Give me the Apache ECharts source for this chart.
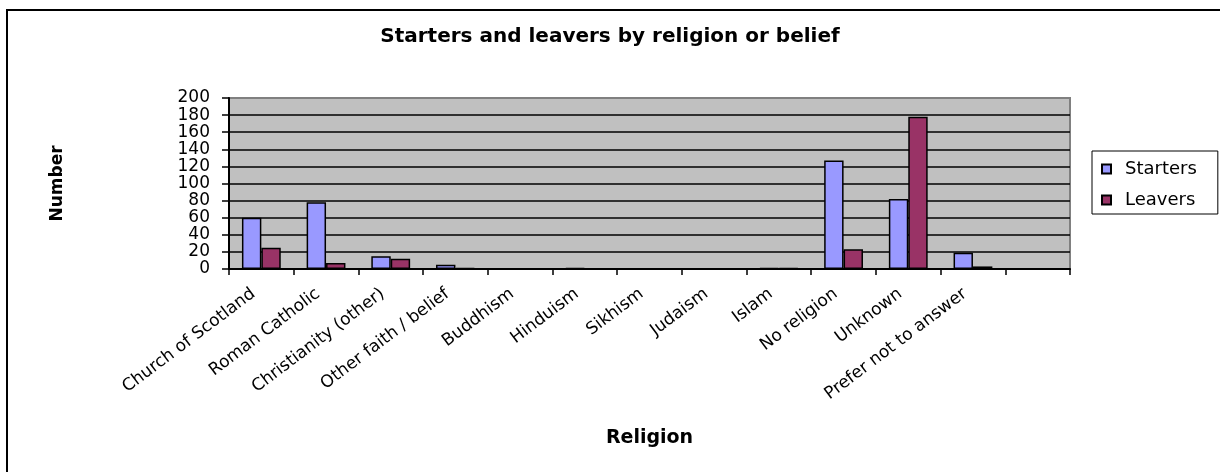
<!DOCTYPE html>
<html>
<head>
<meta charset="utf-8">
<script src="https://cdn.jsdelivr.net/npm/echarts@6/dist/echarts.min.js"></script>
<style>
html,body{margin:0;padding:0;background:#fff;}
#chart{width:1220px;height:472px;}
</style>
</head>
<body>
<div id="chart"></div>
<script>
var categories = ['Church of Scotland','Roman Catholic','Christianity (other)','Other faith / belief','Buddhism','Hinduism','Sikhism','Judaism','Islam','No religion','Unknown','Prefer not to answer',''];
var starters = [60,78,15,5,0,1,0,0,1,127,82,19,null];
var leavers  = [25,7,12,1,0,0,0,0,1,23,178,3,null];
var yTicks = {min:0, max:200, interval:20};

var FONT = 'DejaVu Sans';
var chart = echarts.init(document.getElementById('chart'), null, {renderer:'canvas'});
var splitColors = [];
for (var i = 0; i < 10; i++) splitColors.push('#000000');
splitColors.push('#808080');

chart.setOption({
  backgroundColor:'#ffffff',
  animation:false,
  title:{
    text:'Starters and leavers by religion or belief',
    left:'center', top:27, padding:0,
    textStyle:{fontFamily:FONT, fontWeight:'bold', fontSize:20, color:'#000'}
  },
  graphic:[{
    type:'rect', z:-10, silent:true,
    shape:{x:7, y:10, width:1400, height:700},
    style:{fill:'none', stroke:'#000', lineWidth:2}
  }],
  legend:{
    orient:'vertical', left:1092, top:151,
    backgroundColor:'#fff', borderColor:'#000', borderWidth:1,
    padding:[9,21,5,9], itemGap:13,
    itemWidth:9, itemHeight:9, icon:'rect',
    textStyle:{fontFamily:FONT, fontSize:18, color:'#000', lineHeight:18, padding:[0,0,0,9]},
    data:['Starters','Leavers']
  },
  grid:{left:229, right:150, top:98, bottom:203, show:true, backgroundColor:'#c0c0c0', borderColor:'#808080', borderWidth:2},
  xAxis:{
    type:'category', data:categories,
    name:'Religion', nameLocation:'middle', nameGap:160,
    nameTextStyle:{fontFamily:FONT, fontWeight:'bold', fontSize:19, color:'#000'},
    axisLine:{lineStyle:{color:'#000', width:2}},
    axisTick:{show:true, interval:0, length:6, lineStyle:{color:'#000', width:1.5}},
    axisLabel:{interval:0, rotate:37, margin:17, padding:[0,10,0,0], fontFamily:FONT, fontSize:17, color:'#000'},
    splitLine:{show:false}
  },
  yAxis:{
    type:'value', min:yTicks.min, max:yTicks.max, interval:yTicks.interval,
    name:'Number', nameLocation:'middle', nameRotate:90, nameGap:163,
    nameTextStyle:{fontFamily:FONT, fontWeight:'bold', fontSize:17, color:'#000'},
    axisLine:{show:true, lineStyle:{color:'#000', width:2}},
    axisTick:{show:true, length:7, lineStyle:{color:'#000', width:1.5}},
    axisLabel:{margin:19, fontFamily:FONT, fontSize:17, color:'#000'},
    splitLine:{show:true, lineStyle:{color:splitColors, width:1.5}}
  },
  series:[
    {name:'Starters', type:'bar', data:starters, barGap:'0%', barCategoryGap:'40%',
     itemStyle:{color:'#9999FF', borderColor:'#000', borderWidth:1.5}},
    {name:'Leavers', type:'bar', data:leavers, barGap:'0%', barCategoryGap:'40%',
     itemStyle:{color:'#993366', borderColor:'#000', borderWidth:1.5}}
  ]
});
</script>
</body>
</html>
